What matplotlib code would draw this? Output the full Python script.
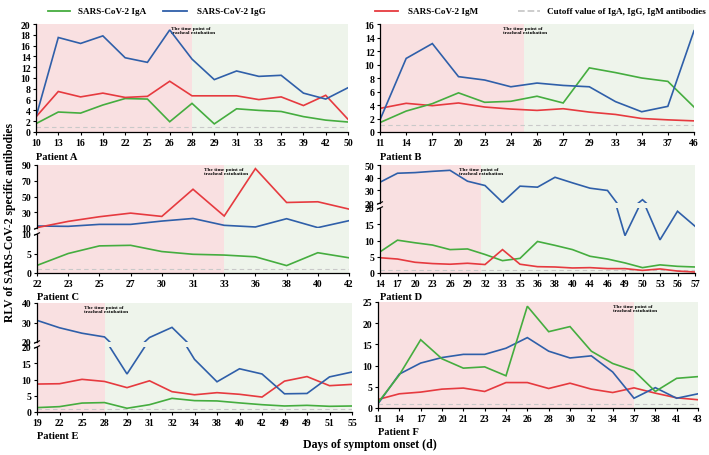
import numpy as np
import matplotlib
matplotlib.use("Agg")
import matplotlib.pyplot as plt
from matplotlib.lines import Line2D

plt.rcParams['font.family'] = ['Liberation Serif', 'DejaVu Serif']
plt.rcParams['font.weight'] = 'bold'

W, H = 709, 456

GREEN = '#45ad3f'
BLUE = '#2f5fa9'
RED = '#e63a3f'
PINK = '#f9e0e1'
LGREEN = '#eef4eb'
CUT = '#c9c9c9'

# ---- data ----
days_A = ['10', '13', '16', '19', '22', '25', '26', '28', '29', '31', '33', '35', '39', '42', '50']
igg_A = [2.8, 17.5, 16.4, 17.8, 13.75, 12.9, 18.9, 13.5, 9.7, 11.3, 10.3, 10.5, 7.2, 6.1, 8.2]
igm_A = [2.8, 7.5, 6.5, 7.2, 6.4, 6.6, 9.4, 6.7, 6.7, 6.7, 6.0, 6.5, 4.9, 6.8, 2.35]
iga_A = [1.55, 3.7, 3.5, 5.0, 6.2, 6.1, 1.9, 5.3, 1.5, 4.3, 4.0, 3.8, 2.85, 2.2, 1.85]

days_B = ['11', '14', '17', '20', '23', '24', '26', '27', '29', '33', '34', '37', '46']
igg_B = [1.8, 10.9, 13.1, 8.2, 7.7, 6.7, 7.25, 6.9, 6.7, 4.5, 3.0, 3.8, 15.0]
iga_B = [1.4, 3.1, 4.2, 5.8, 4.4, 4.55, 5.3, 4.3, 9.5, 8.8, 8.0, 7.5, 3.7]
igm_B = [3.5, 4.25, 3.9, 4.3, 3.7, 3.4, 3.2, 3.45, 2.95, 2.6, 2.0, 1.8, 1.65]

days_C = ['22', '23', '25', '27', '30', '31', '33', '36', '38', '40', '42']
igm_C = [10.5, 18.4, 24.3, 28.9, 24.7, 59.2, 25.2, 85.4, 42.4, 43.3, 34.0]
igg_C = [12.5, 12.1, 14.6, 14.6, 18.8, 22.1, 13.4, 11.3, 21.8, 10.5, 19.3]
iga_C = [1.95, 5.0, 6.95, 7.1, 5.5, 4.8, 4.6, 4.15, 1.9, 5.2, 3.9]

days_D = ['14', '17', '20', '23', '26', '29', '32', '33', '35', '36', '38', '40',
          '44', '46', '49', '50', '53', '56', '57']
igg_D = [36.4, 43.5, 44.0, 45.0, 45.8, 37.2, 33.8, 20.5, 33.3, 32.5, 40.3, 35.9,
         31.7, 29.9, 11.5, 22.6, 10.2, 19.0, 14.4]
iga_D = [6.5, 10.1, 9.3, 8.6, 7.2, 7.4, 5.7, 3.8, 4.5, 9.7, 8.5, 7.2,
         5.15, 4.3, 3.1, 1.65, 2.5, 2.05, 1.85]
igm_D = [4.7, 4.3, 3.3, 2.9, 2.7, 3.0, 2.6, 7.2, 2.7, 1.95, 1.85, 1.55,
         1.65, 1.35, 1.35, 0.8, 1.25, 0.6, 0.3]

days_E = ['19', '22', '25', '28', '29', '31', '32', '34', '38', '40', '42', '49', '49', '51', '55']
igg_E = [31.1, 27.3, 24.5, 22.6, 11.7, 22.3, 27.5, 16.2, 9.3, 13.3, 11.7, 5.6, 5.7, 10.8, 12.3]
igm_E = [8.6, 8.7, 10.05, 9.4, 7.5, 9.6, 6.25, 5.3, 5.95, 5.45, 4.6, 9.5, 10.9, 8.1, 8.5]
iga_E = [1.35, 1.65, 2.75, 2.9, 1.15, 2.25, 4.2, 3.5, 3.4, 2.8, 2.25, 1.85, 2.05, 1.75, 1.85]

days_F = ['11', '14', '17', '20', '21', '23', '24', '26', '28', '30', '32', '34', '37', '38', '41', '43']
iga_F = [1.25, 7.8, 16.1, 11.6, 9.4, 9.7, 7.6, 24.0, 18.0, 19.2, 13.4, 10.5, 8.8, 3.9, 7.0, 7.4]
igg_F = [1.0, 8.0, 10.6, 11.9, 12.65, 12.65, 14.1, 16.6, 13.4, 11.8, 12.3, 8.5, 2.3, 4.8, 2.3, 3.35]
igm_F = [2.0, 3.35, 3.75, 4.45, 4.7, 3.9, 6.0, 6.0, 4.6, 5.85, 4.45, 3.65, 4.75, 3.5, 2.4, 1.95]

# extubation position (in category index units)
extub = {'A': 7, 'B': 5.5, 'C': 6, 'D': 5.75, 'E': 3, 'F': 12}
cutoff = 1.0

legend_labels = ['SARS-CoV-2 IgA', 'SARS-CoV-2 IgG', 'SARS-CoV-2 IgM',
                 'Cutoff value of IgA, IgG, IgM antibodies']


def rect(l, t, r, b):
    return [l / W, 1 - b / H, (r - l) / W, (b - t) / H]


def style(ax, bottom=True):
    for s in ['top', 'right']:
        ax.spines[s].set_visible(False)
    ax.spines['left'].set_linewidth(0.9)
    ax.spines['bottom'].set_linewidth(0.9)
    ax.tick_params(axis='both', labelsize=7, length=2.5, width=0.8, pad=1.5)
    if not bottom:
        ax.spines['bottom'].set_visible(False)
        ax.tick_params(axis='x', bottom=False, labelbottom=False)


def draw_lines(ax, x, series, clip=True):
    for y, c in series:
        ax.plot(x, y, color=c, lw=1.2, clip_on=clip, solid_joinstyle='miter')


def background(fig, box, n, key, name):
    bg = fig.add_axes(rect(*box), zorder=0)
    bg.set_xlim(0, n - 1)
    bg.set_ylim(0, 1)
    bg.axvspan(0, extub[key], color=PINK, lw=0)
    bg.axvspan(extub[key], n - 1, color=LGREEN, lw=0)
    bg.text(extub[key] + 0.05, 0.985, 'The time point of\ntracheal extubation',
            ha='center', va='top', fontsize=3.8, multialignment='left')
    bg.axis('off')
    l, t, r, b = box
    fig.text(l / W, 1 - (b + 24) / H, 'Patient ' + name, fontsize=7.6,
             ha='left', va='center')
    return bg


def simple_panel(fig, box, key, days, series, ymax, ystep):
    n = len(days)
    background(fig, box, n, key, key)
    ax = fig.add_axes(rect(*box), zorder=2)
    ax.patch.set_alpha(0)
    x = np.arange(n)
    ax.axhline(cutoff, color=CUT, lw=0.8, ls=(0, (4, 3)))
    draw_lines(ax, x, series)
    ax.set_xlim(0, n - 1)
    ax.set_ylim(0, ymax)
    ax.set_yticks(np.arange(0, ymax + 0.1, ystep))
    ax.set_xticks(x)
    ax.set_xticklabels(days)
    style(ax)
    return ax


def broken_panel(fig, box, gap, key, days, series, lo, hi, lo_ticks, hi_ticks):
    l, t, r, b = box
    n = len(days)
    background(fig, box, n, key, key)
    x = np.arange(n)
    up = fig.add_axes(rect(l, t, r, gap[0]), zorder=2)
    dn = fig.add_axes(rect(l, gap[1], r, b), zorder=2)
    for ax in (up, dn):
        ax.patch.set_alpha(0)
        ax.set_xlim(0, n - 1)
        draw_lines(ax, x, series)
    dn.axhline(cutoff, color=CUT, lw=0.8, ls=(0, (4, 3)), zorder=1)
    up.set_ylim(*hi)
    dn.set_ylim(*lo)
    up.set_yticks(hi_ticks)
    dn.set_yticks(lo_ticks)
    dn.set_xticks(x)
    dn.set_xticklabels(days)
    style(up, bottom=False)
    style(dn)
    # break marks on the left spine
    d = 2.0
    for yy in (gap[0], gap[1]):
        fig.add_artist(Line2D([(l - 2.5) / W, (l + 2.5) / W],
                              [1 - (yy + d * 0.6) / H, 1 - (yy - d * 0.6) / H],
                              color='black', lw=0.8))
    return up, dn


fig = plt.figure(figsize=(W / 100, H / 100), dpi=100)

simple_panel(fig, (36, 25, 348, 133), 'A', days_A,
             [(iga_A, GREEN), (igm_A, RED), (igg_A, BLUE)], 20, 2)
simple_panel(fig, (380, 25, 694, 133), 'B', days_B,
             [(igm_B, RED), (iga_B, GREEN), (igg_B, BLUE)], 16, 2)
broken_panel(fig, (37, 166, 349, 274), (229, 235), 'C', days_C,
             [(iga_C, GREEN), (igg_C, BLUE), (igm_C, RED)],
             (0, 10), (10, 90), [0, 5, 10], [10, 30, 50, 70, 90])
broken_panel(fig, (380, 166, 695, 274), (204, 209), 'D', days_D,
             [(igg_D, BLUE), (iga_D, GREEN), (igm_D, RED)],
             (0, 20), (20, 50), [0, 5, 10, 15, 20], [20, 30, 40, 50])
broken_panel(fig, (37, 304, 352, 413), (343, 348), 'E', days_E,
             [(iga_E, GREEN), (igm_E, RED), (igg_E, BLUE)],
             (0, 20), (20, 40), [0, 5, 10, 15, 20], [20, 30, 40])
simple_panel(fig, (378, 303, 698, 409), 'F', days_F,
             [(igm_F, RED), (igg_F, BLUE), (iga_F, GREEN)], 25, 5)

# legend row
leg_items = [(48, 70, 78, GREEN, '-'), (163, 187, 197, BLUE, '-'),
             (375, 398, 408, RED, '-'), (518, 540, 547, CUT, '--')]
for (x0, x1, xt, c, ls), lab in zip(leg_items, legend_labels):
    fig.add_artist(Line2D([x0 / W, x1 / W], [1 - 12 / H, 1 - 12 / H], color=c,
                          lw=1.3, ls=ls))
    fig.text(xt / W, 1 - 12 / H, lab, fontsize=6.6, ha='left', va='center')

fig.text(10 / W, 1 - 222 / H, 'RLV of SARS-CoV-2 specific antibodies', rotation=90,
         ha='center', va='center', fontsize=8.5)
fig.text(370 / W, 1 - 445 / H, 'Days of symptom onset (d)', ha='center', va='center',
         fontsize=8.5)

fig.savefig('out.png', dpi=100)
